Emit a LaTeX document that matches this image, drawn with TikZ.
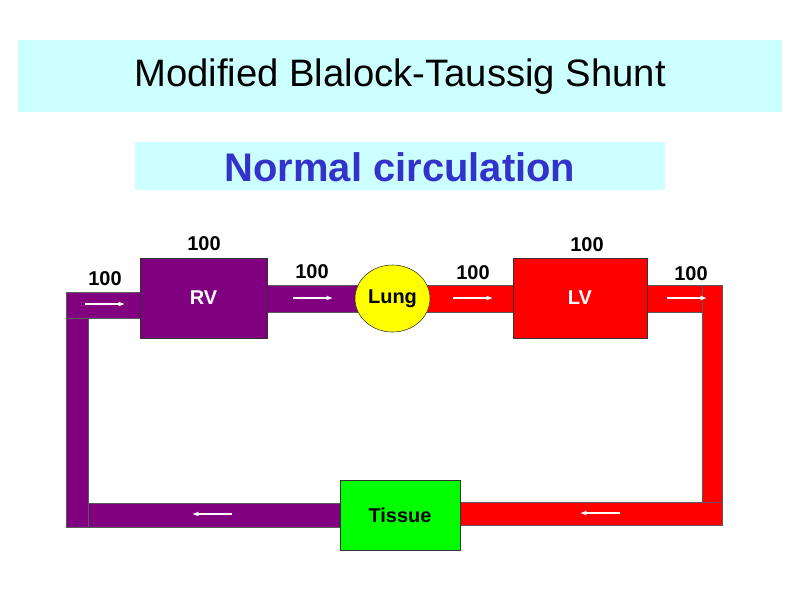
\documentclass[tikz,border=0pt]{standalone}
\usepackage{fontspec}
\setmainfont{Liberation Sans}
\usetikzlibrary{positioning, shapes.geometric, arrows.meta}

\begin{document}
\begin{tikzpicture}[x=0.025cm,y=-0.025cm]
  \definecolor{venous}{RGB}{128,0,128}
  \definecolor{arterial}{RGB}{255,0,0}
  \definecolor{tissuegreen}{RGB}{0,255,0}
  \definecolor{lungyellow}{RGB}{255,255,0}
  \definecolor{banner}{RGB}{204,255,255}
  \definecolor{headblue}{RGB}{51,51,204}
  \tikzset{
    tube/.style={draw=black!65, line width=0.4pt},
    organ/.style={draw=black!80, line width=0.4pt, font=\fontsize{14.2}{16}\selectfont\bfseries},
    flow/.style={-{Latex[length=4.5pt,width=3.5pt]}, white, line width=0.8pt},
    count/.style={font=\fontsize{14.2}{16}\selectfont\bfseries}
  }
  \useasboundingbox (0,0) rectangle (800,600);
  \fill[white] (0,0) rectangle (800,600);
  \fill[banner] (18,40) rectangle (782,112);
  \node (title) at (400,77) {\fontsize{27.2}{32}\selectfont Modified Blalock-Taussig Shunt};
  \fill[banner] (135,142) rectangle (665,190);
  \node[headblue] (subtitle) at (400,167) {\fontsize{28.4}{34}\selectfont\bfseries Normal circulation};
  \filldraw[venous, tube] (66,292) rectangle (140,318);
  \filldraw[venous, tube] (66,318) rectangle (88,527);
  \filldraw[venous, tube] (88,503) rectangle (340,527);
  \filldraw[venous, tube] (267,285) rectangle (362,312);
  \filldraw[arterial, tube] (425,285) rectangle (513,312);
  \filldraw[arterial, tube] (647,285) rectangle (702,312);
  \filldraw[arterial, tube] (702,285) rectangle (722,502);
  \filldraw[arterial, tube] (460,502) rectangle (722,525);
  \node[organ, fill=venous, text=white, minimum width=3.175cm, minimum height=2cm] (rv) at (203.5,298) {RV};
  \node[organ, fill=arterial, text=white, minimum width=3.35cm, minimum height=2cm] (lv) at (580,298) {LV};
  \node[organ, ellipse, fill=lungyellow, inner sep=0pt, minimum width=1.875cm, minimum height=1.675cm] (lung) at (392.5,298.5) {Lung};
  \node[organ, fill=tissuegreen, minimum width=3cm, minimum height=1.75cm] (tissue) at (400,515) {Tissue};
  \node[count] (inRV) at (105,279) {100};
  \node[count] (atRV) at (204,244) {100};
  \node[count] (outRV) at (312,272) {100};
  \node[count] (inLV) at (473,273) {100};
  \node[count] (atLV) at (587,245) {100};
  \node[count] (outLV) at (691,274) {100};
  \draw[flow] (85,304) -- (125,304);
  \draw[flow] (293,298) -- (333,298);
  \draw[flow] (453,298) -- (493,298);
  \draw[flow] (667,298) -- (707,298);
  \draw[flow] (620,513) -- (580,513);
  \draw[flow] (232,514) -- (192,514);
\end{tikzpicture}
\end{document}
